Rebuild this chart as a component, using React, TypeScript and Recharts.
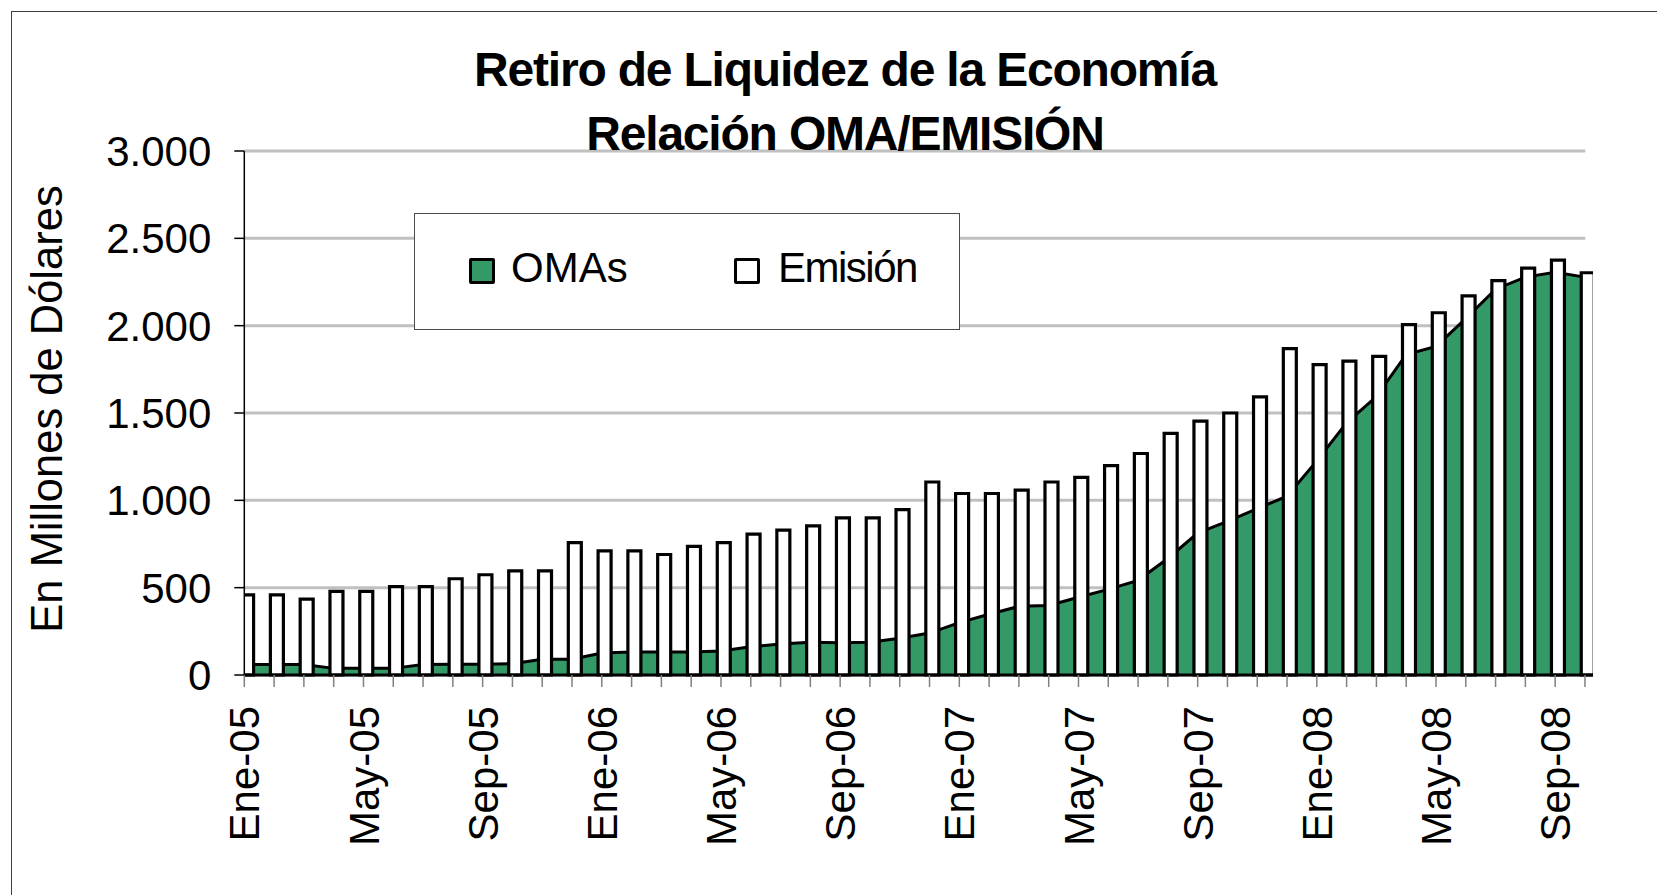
import { Area, Bar, CartesianGrid, ComposedChart, Label, Legend, XAxis, YAxis } from "recharts"

const FUENTE = '"Liberation Sans", Arial, sans-serif'
const VERDE = "#339966"

const MESES = ["Ene", "Feb", "Mar", "Abr", "May", "Jun", "Jul", "Ago", "Sep", "Oct", "Nov", "Dic"]
const ANIOS = ["05", "06", "07", "08"]
// Ene-05 .. Oct-08
const periodos = ANIOS.flatMap((a) => MESES.map((m) => `${m}-${a}`)).slice(0, 46)

// En millones de dólares
const omas = [
  60, 60, 60, 38, 38, 38, 60, 61, 61, 65,
  90, 90, 126, 131, 131, 131, 138, 162, 178, 187,
  184, 187, 210, 240, 300, 348, 393, 398, 445, 490,
  542, 667, 813, 880, 952, 1024, 1226, 1444, 1594, 1835,
  1881, 2040, 2209, 2278, 2305, 2278,
]
const emision = [
  459, 459, 434, 479, 479, 506, 506, 551, 574, 596,
  596, 758, 711, 711, 690, 736, 758, 807, 830, 854,
  899, 899, 947, 1105, 1039, 1039, 1059, 1105, 1131, 1199,
  1268, 1383, 1453, 1500, 1592, 1869, 1777, 1797, 1824, 2006,
  2074, 2170, 2258, 2330, 2375, 2303,
]

const yTicks = [0, 500, 1000, 1500, 2000, 2500, 3000]
const etiquetasX = ["Ene-05", "May-05", "Sep-05", "Ene-06", "May-06", "Sep-06", "Ene-07", "May-07", "Sep-07", "Ene-08", "May-08", "Sep-08"]

const data = periodos.map((mes, i) => ({ i, mes, omas: omas[i], emision: emision[i] }))
const xTicks = data.map((d) => d.i)

const miles = (v: number) => String(v).replace(/\B(?=(\d{3})+(?!\d))/g, ".")

function TickMes(props: any) {
  const { x, y, payload } = props
  const etiqueta = periodos[payload.value]
  if (!etiquetasX.includes(etiqueta)) return <g />
  return (
    <text
      x={x}
      y={y}
      dy="0.36em"
      textAnchor="end"
      transform={`rotate(-90, ${x}, ${y})`}
      fontSize={42}
      fontFamily={FUENTE}
      fill="#000"
    >
      {etiqueta}
    </text>
  )
}

function CuadroLeyenda() {
  const cuadro = (fondo: string, left: number) => (
    <div
      style={{
        position: "absolute",
        left,
        top: 44,
        width: 26,
        height: 26,
        boxSizing: "border-box",
        border: "3px solid #000",
        borderRadius: 2,
        background: fondo,
      }}
    />
  )
  const texto = (t: string, left: number, espacio: number) => (
    <div
      style={{
        position: "absolute",
        left,
        top: 33,
        fontSize: 42,
        lineHeight: 1,
        letterSpacing: espacio,
        fontFamily: FUENTE,
        color: "#000",
      }}
    >
      {t}
    </div>
  )
  return (
    <div
      style={{
        position: "relative",
        width: 546,
        height: 117,
        boxSizing: "border-box",
        border: "1.5px solid #4a4a4a",
        background: "#fff",
      }}
    >
      {cuadro(VERDE, 54)}
      {texto("OMAs", 96, 0)}
      {cuadro("#fff", 319)}
      {texto("Emisión", 363, -1.5)}
    </div>
  )
}

export default function App() {
  return (
    <div style={{ position: "absolute", left: 0, top: 0, width: 1657, height: 895, overflow: "hidden", background: "#fff" }}>
      <div
        style={{
          position: "absolute",
          left: 11,
          top: 11,
          width: 1750,
          height: 1000,
          border: "1.5px solid #3c3c3c",
        }}
      />
      <div style={{ position: "absolute", left: 0, top: 0 }}>
        <ComposedChart
          width={1657}
          height={895}
          data={data}
          margin={{ top: 151, right: 64, bottom: 70, left: 144.3 }}
        >
          <CartesianGrid horizontal vertical={false} stroke="#C0C0C0" strokeWidth={3} width={1341} />
          <XAxis
            dataKey="i"
            type="number"
            domain={[0, 45.27]}
            allowDataOverflow
            ticks={xTicks}
            interval={0}
            height={150}
            tickSize={12}
            tickMargin={19}
            tickLine={{ stroke: "#808080", strokeWidth: 1.5 }}
            axisLine={{ stroke: "#000", strokeWidth: 3 }}
            tick={<TickMes />}
          />
          <XAxis xAxisId="barras" dataKey="i" type="number" domain={[-0.107, 45.163]} allowDataOverflow hide />
          <YAxis
            type="number"
            domain={[0, 3000]}
            ticks={yTicks}
            interval={0}
            width={100}
            tickSize={10}
            tickMargin={23}
            tickFormatter={miles}
            tickLine={{ stroke: "#000", strokeWidth: 1.5 }}
            axisLine={{ stroke: "#000", strokeWidth: 1.5 }}
            tick={{ fontSize: 42, fill: "#000", fontFamily: FUENTE }}
          >
            <Label
              content={({ viewBox }: any) => {
                const cy = viewBox.y + viewBox.height / 2 - 4
                return (
                  <text
                    x={62}
                    y={cy}
                    textAnchor="middle"
                    transform={`rotate(-90, 62, ${cy})`}
                    fontSize={43.5}
                    fontFamily={FUENTE}
                    fill="#000"
                  >
                    En Millones de Dólares
                  </text>
                )
              }}
            />
          </YAxis>
          <Area
            type="linear"
            dataKey="omas"
            name="OMAs"
            fill={VERDE}
            fillOpacity={1}
            stroke="#000"
            strokeWidth={3}
            dot={false}
            activeDot={false}
            isAnimationActive={false}
          />
          <Bar
            xAxisId="barras"
            dataKey="emision"
            name="Emisión"
            fill="#fff"
            stroke="#000"
            strokeWidth={3.2}
            barSize={13}
            isAnimationActive={false}
          />
          <Legend
            layout="horizontal"
            verticalAlign="middle"
            align="center"
            wrapperStyle={{ left: 414, top: 213, width: 546, height: 117 }}
            content={() => <CuadroLeyenda />}
          />
        </ComposedChart>
      </div>
      <div
        style={{
          position: "absolute",
          left: 0,
          width: 1690,
          top: 46,
          textAlign: "center",
          fontFamily: FUENTE,
          fontWeight: "bold",
          fontSize: 48,
          letterSpacing: -1.2,
          lineHeight: 1,
          color: "#000",
        }}
      >
        Retiro de Liquidez de la Economía
      </div>
      <div
        style={{
          position: "absolute",
          left: 0,
          width: 1690,
          top: 109.5,
          textAlign: "center",
          fontFamily: FUENTE,
          fontWeight: "bold",
          fontSize: 48,
          letterSpacing: -1.2,
          lineHeight: 1,
          color: "#000",
        }}
      >
        Relación OMA/EMISIÓN
      </div>
    </div>
  )
}
